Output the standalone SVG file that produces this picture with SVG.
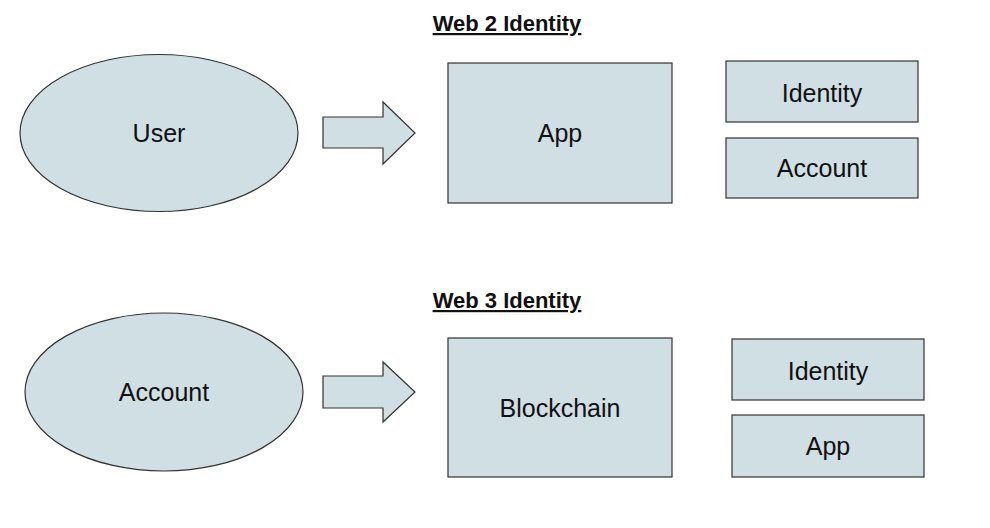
<svg xmlns="http://www.w3.org/2000/svg" width="990" height="528" viewBox="0 0 990 528">
<style>
.shape{fill:#d0dfe3;stroke:#333;stroke-width:1.2}
.lbl{font-family:"Liberation Sans",Arial,sans-serif;font-size:25px;fill:#111;text-anchor:middle}
.title{font-family:"Liberation Sans",Arial,sans-serif;font-size:22px;font-weight:bold;fill:#111;text-anchor:middle;text-decoration:underline}
</style>
<rect width="990" height="528" fill="#fff"/>
<text class="title" x="507" y="31">Web 2 Identity</text>
<text class="title" x="507" y="308">Web 3 Identity</text>
<g id="user"><ellipse class="shape" cx="159" cy="133" rx="139" ry="78.5"/><text class="lbl" x="159" y="142">User</text></g>
<g id="app1"><rect class="shape" x="448" y="63" width="224" height="140"/><text class="lbl" x="560" y="142">App</text></g>
<g id="identity1"><rect class="shape" x="726" y="61" width="192" height="61"/><text class="lbl" x="822" y="102">Identity</text></g>
<g id="account1"><rect class="shape" x="726" y="138" width="192" height="60"/><text class="lbl" x="822" y="177">Account</text></g>
<g id="account2"><ellipse class="shape" cx="164" cy="392" rx="139" ry="79"/><text class="lbl" x="164" y="401">Account</text></g>
<g id="blockchain"><rect class="shape" x="448" y="338" width="224" height="139"/><text class="lbl" x="560" y="417">Blockchain</text></g>
<g id="identity2"><rect class="shape" x="732" y="339" width="192" height="61"/><text class="lbl" x="828" y="380">Identity</text></g>
<g id="app2"><rect class="shape" x="732" y="415" width="192" height="62"/><text class="lbl" x="828" y="455">App</text></g>
<g id="connectors">
<path class="shape" d="M323,117 H383 V102 L415,133 L383,164 V148 H323 Z"/>
<path class="shape" d="M323,376 H383 V362 L415,392 L383,422 V408 H323 Z"/>
</g>
</svg>
